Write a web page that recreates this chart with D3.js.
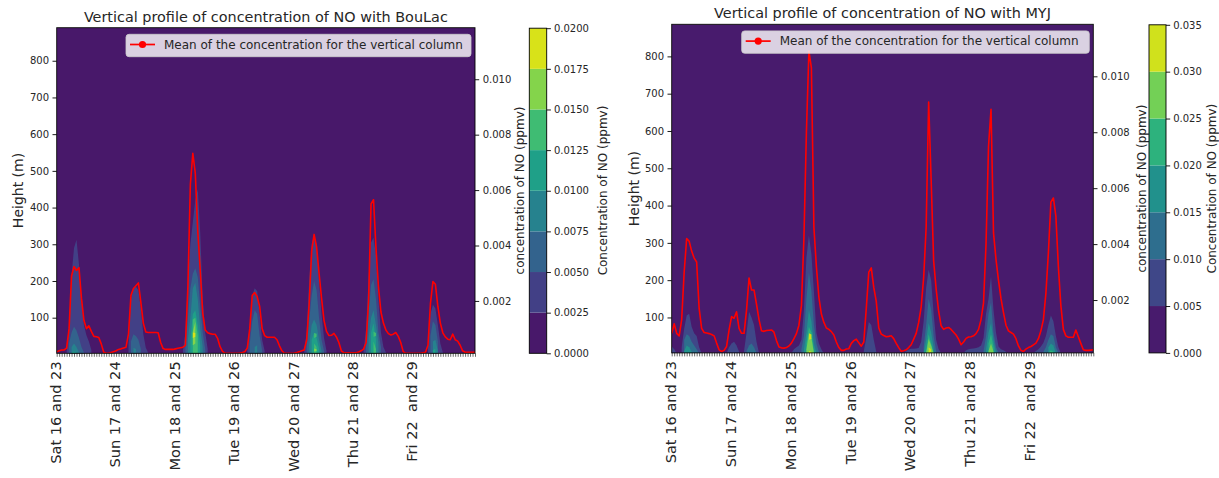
<!DOCTYPE html>
<html>
<head>
<meta charset="utf-8">
<script src="https://cdn.jsdelivr.net/npm/d3@7"></script>
<style>
  body { margin: 0; background: #ffffff; }
  svg text { font-family: "DejaVu Sans", sans-serif; fill: #262626; }
</style>
</head>
<body>
<svg id="chart" width="1219" height="478"></svg>
<script>
// ---------------------------------------------------------------
// Data
// ---------------------------------------------------------------

// Day labels on the time axis (one label every 24 h)
const dayTickHours = [0, 24, 48, 72, 96, 120, 144];
const dayLabels = ["Sat 16 and 23", "Sun 17 and 24", "Mon 18 and 25", "Tue 19 and 26",
                   "Wed 20 and 27", "Thu 21 and 28", "Fri 22  and 29"];
const heightTicks = [100, 200, 300, 400, 500, 600, 700, 800];
const meanTicks = [0.002, 0.004, 0.006, 0.008, 0.010];

// Contour levels (ppmv)
const bouLacLevels = [0, 0.0025, 0.005, 0.0075, 0.01, 0.0125, 0.015, 0.0175, 0.02];
const myjLevels = [0, 0.005, 0.01, 0.015, 0.02, 0.025, 0.03, 0.035];

// Hourly column-mean concentration (ppbv = 1e-3 ppmv), hours 0..169
const bouLacMeanPpbv = [
  0.17, 0.2, 0.23, 0.23, 0.3, 1.0, 2.9, 3.24, 3.1, 3.2, 2.1, 1.3, 1.0, 1.1, 0.9, 0.72, 0.71, 0.68, 0.45, 0.15, 0.11, 0.11, 0.14, 0.17,
  0.2, 0.25, 0.27, 0.3, 0.33, 0.8, 2.2, 2.45, 2.55, 2.65, 1.95, 1.2, 0.88, 0.86, 0.86, 0.86, 0.86, 0.85, 0.5, 0.28, 0.25, 0.25, 0.25, 0.25,
  0.27, 0.29, 0.31, 0.33, 0.4, 2.5, 6.2, 7.33, 6.6, 4.5, 3.1, 1.56, 0.95, 0.85, 0.82, 0.8, 0.8, 0.65, 0.35, 0.18, 0.11, 0.11, 0.11, 0.11,
  0.11, 0.11, 0.12, 0.14, 0.17, 0.3, 1.0, 2.2, 2.3, 2.15, 1.8, 1.0, 0.75, 0.69, 0.69, 0.69, 0.69, 0.6, 0.38, 0.2, 0.11, 0.11, 0.11, 0.11,
  0.12, 0.14, 0.17, 0.2, 0.23, 0.6, 1.9, 3.8, 4.4, 3.95, 3.0, 2.1, 1.3, 0.9, 0.75, 0.76, 0.83, 0.7, 0.5, 0.2, 0.13, 0.13, 0.13, 0.13,
  0.13, 0.13, 0.16, 0.2, 0.26, 0.5, 2.0, 5.5, 5.65, 3.9, 2.5, 1.6, 1.2, 0.95, 0.82, 0.77, 0.8, 0.86, 0.72, 0.5, 0.17, 0.11, 0.11, 0.11,
  0.11, 0.11, 0.11, 0.11, 0.13, 0.15, 0.4, 1.9, 2.7, 2.6, 1.8, 1.2, 0.85, 0.7, 0.62, 0.6, 0.8, 0.6, 0.55, 0.4, 0.2, 0.15, 0.15, 0.15, 0.15, 0.15
];
const myjMeanPpbv = [
  0.81, 1.15, 0.81, 0.72, 1.3, 3.0, 4.2, 4.1, 3.75, 3.5, 3.36, 1.7, 0.99, 0.84, 0.82, 0.8, 0.77, 0.72, 0.46, 0.22, 0.16, 0.2, 0.34, 0.93,
  1.41, 1.35, 1.58, 0.99, 0.81, 0.81, 1.64, 2.79, 2.36, 2.36, 1.85, 1.3, 0.9, 0.88, 0.91, 0.92, 0.93, 0.85, 0.55, 0.32, 0.29, 0.28, 0.3, 0.36,
  0.46, 0.62, 0.8, 1.1, 1.8, 4.2, 8.0, 10.9, 10.3, 4.6, 3.2, 2.1, 1.5, 1.2, 1.0, 0.95, 0.87, 0.75, 0.5, 0.3, 0.2, 0.2, 0.25, 0.26,
  0.45, 0.55, 0.6, 0.47, 0.35, 0.5, 1.7, 3.0, 3.15, 2.45, 1.95, 1.0, 0.78, 0.73, 0.69, 0.7, 0.72, 0.62, 0.45, 0.3, 0.17, 0.19, 0.22, 0.3,
  0.4, 0.6, 0.81, 1.2, 1.75, 2.8, 4.6, 9.08, 6.3, 3.4, 2.4, 1.6, 1.08, 0.95, 1.0, 1.02, 0.95, 0.85, 0.75, 0.6, 0.4, 0.5, 0.63, 0.68,
  0.69, 0.72, 0.8, 0.95, 1.3, 1.9, 4.0, 7.5, 8.82, 4.4, 3.45, 2.7, 2.05, 1.55, 1.1, 0.9, 0.84, 0.78, 0.62, 0.36, 0.2, 0.16, 0.25, 0.3,
  0.34, 0.4, 0.46, 0.62, 0.9, 1.3, 2.24, 3.7, 5.5, 5.65, 5.0, 3.19, 1.8, 0.95, 0.72, 0.67, 0.67, 0.67, 0.93, 0.69, 0.45, 0.22, 0.2, 0.2, 0.21, 0.22
];

// Filled-contour regions: for each level, cells [hour, bottom height (m), top height (m)]
// where the concentration exceeds that level. BouLac run.
const bouLacAbove1 = [
  [4,0,5],[5,0,80],[6,0,215],[7,0,290],[8,0,312],[9,0,245],[10,0,150],[11,0,80],[12,0,52],[13,0,35],[14,0,12],
  [29,0,25],[30,0,150],[31,0,180],[32,0,185],[33,0,175],[34,0,125],[35,0,55],[36,0,18],[37,0,4],
  [51,0,10],[52,0,60],[53,0,200],[54,0,300],[55,0,360],[56,0,420],[57,0,450],[58,0,330],[59,0,150],[60,0,60],[61,0,15],
  [77,0,10],[78,0,80],[79,0,160],[80,0,180],[81,0,172],[82,0,110],[83,0,40],[84,0,10],
  [100,0,10],[101,0,60],[102,0,200],[103,0,300],[104,0,325],[105,0,300],[106,0,200],[107,0,110],[108,0,45],[109,0,10],
  [124,0,10],[125,0,70],[126,0,210],[127,0,305],[128,0,318],[129,0,270],[130,0,150],[131,0,60],[132,0,20],[133,0,5],
  [150,0,20],[151,0,110],[152,0,135],[153,0,125],[154,0,80],[155,0,30],[156,0,5]
];
const bouLacAbove2 = [
  [5,0,30],[6,0,60],[7,0,75],[8,0,65],[9,0,45],[10,0,20],[11,0,5],
  [30,0,35],[31,0,55],[32,0,50],[33,0,40],[34,0,15],
  [52,0,20],[53,0,100],[54,0,180],[55,0,220],[56,0,235],[57,0,210],[58,0,130],[59,0,60],[60,0,15],
  [78,0,30],[79,0,90],[80,0,120],[81,0,110],[82,0,50],[83,0,10],
  [101,0,20],[102,0,90],[103,0,160],[104,0,200],[105,0,175],[106,0,100],[107,0,40],[108,0,10],
  [125,0,20],[126,0,110],[127,0,190],[128,0,205],[129,0,150],[130,0,60],[131,0,20],
  [151,0,50],[152,0,90],[153,0,80],[154,0,35]
];
const bouLacAbove3 = [
  [6,0,20],[7,0,30],[8,0,20],[9,0,5],
  [31,0,18],[32,0,15],
  [53,0,40],[54,0,100],[55,0,180],[56,0,195],[57,0,150],[58,0,70],[59,0,20],
  [80,0,20],[81,0,25],
  [102,0,25],[103,0,80],[104,0,95],[105,0,80],[106,0,40],[107,0,10],
  [126,0,45],[127,0,100],[128,0,120],[129,0,80],[130,0,30],
  [152,0,35],[153,0,40],[154,0,10]
];
const bouLacAbove4 = [
  [6,0,4],[7,0,8],[8,0,4],
  [54,0,40],[55,0,110],[56,0,120],[57,0,80],[58,0,25],
  [103,0,40],[104,0,60],[105,0,45],[106,0,15],
  [127,0,60],[128,0,85],[129,0,40],
  [152,0,12],[153,0,15]
];
const bouLacAbove5 = [
  [55,0,95],[56,0,100],[57,0,50],
  [104,0,30],[105,0,20],
  [104,45,58],[105,48,56],
  [128,0,35],[129,0,15],
  [128,48,62],[129,50,58]
];
const bouLacAbove6 = [
  [55,25,62],[56,30,88],
  [104,8,16],[105,9,14]
];
const bouLacAbove7 = [
  [55,45,60],[56,48,58]
];

// MYJ run
const myjAbove1 = [
  [0,0,22],[1,0,15],[2,0,3],
  [4,0,20],[5,0,70],[6,0,105],[7,0,110],[8,0,75],[9,0,58],[10,0,50],[11,0,20],[12,0,3],
  [22,0,5],[23,0,20],[24,0,30],[25,0,35],[26,0,25],[27,0,8],
  [29,0,10],[30,0,60],[31,0,115],[32,0,100],[33,0,80],[34,0,35],[35,0,5],
  [48,0,5],[49,0,15],[50,0,20],[51,0,25],[52,0,40],[53,0,120],[54,0,260],[55,0,320],[56,0,270],[57,0,170],[58,0,60],[59,0,30],[60,0,15],[61,0,3],
  [77,0,10],[78,0,45],[79,0,88],[80,0,80],[81,0,40],[82,0,8],
  [93,0,5],[94,0,10],[95,0,14],[96,0,16],[97,0,16],[98,0,17],[99,0,18],[100,0,35],[101,0,90],[102,0,180],[103,0,228],[104,0,200],[105,0,110],[106,0,40],[107,0,15],[108,0,5],
  [117,0,5],[118,0,12],[119,0,15],[120,0,16],[121,0,17],[122,0,18],[123,0,20],[124,0,25],[125,0,45],[126,0,110],[127,0,150],[128,0,210],[129,0,120],[130,0,60],[131,0,22],[132,0,15],[133,0,12],[134,0,8],[135,0,3],
  [145,0,5],[146,0,10],[147,0,15],[148,0,22],[149,0,32],[150,0,50],[151,0,80],[152,0,105],[153,0,90],[154,0,50],[155,0,20],[156,0,4]
];
const myjAbove2 = [
  [5,0,40],[6,0,55],[7,0,50],[8,0,35],[9,0,25],[10,0,15],[11,0,3],
  [30,0,10],[31,0,25],[32,0,30],[33,0,20],[34,0,5],
  [52,0,15],[53,0,50],[54,0,150],[55,0,220],[56,0,170],[57,0,80],[58,0,30],[59,0,8],
  [101,0,20],[102,0,80],[103,0,150],[104,0,120],[105,0,50],[106,0,10],
  [125,0,10],[126,0,50],[127,0,110],[128,0,140],[129,0,60],[130,0,20],[131,0,5],
  [149,0,8],[150,0,20],[151,0,40],[152,0,55],[153,0,50],[154,0,20],[155,0,5]
];
const myjAbove3 = [
  [5,0,10],[6,0,25],[7,0,20],[8,0,8],
  [53,0,15],[54,0,60],[55,0,120],[56,0,90],[57,0,30],[58,0,5],
  [101,0,5],[102,0,40],[103,0,85],[104,0,60],[105,0,20],
  [126,0,15],[127,0,60],[128,0,85],[129,0,40],[130,0,5],
  [151,0,20],[152,0,30],[153,0,25],[154,0,5]
];
const myjAbove4 = [
  [54,0,30],[55,0,75],[56,0,60],[57,0,10],
  [102,0,10],[103,0,55],[104,0,30],[105,0,5],
  [127,0,30],[128,0,55],[129,0,20],
  [151,0,5],[152,0,12],[153,0,8]
];
const myjAbove5 = [
  [54,0,15],[55,0,55],[56,0,45],[57,0,5],
  [102,0,5],[103,0,42],[104,0,25],[105,0,3],
  [127,0,10],[128,0,30],[129,0,8]
];
const myjAbove6 = [
  [55,0,10],[56,0,8],
  [55,40,58],[56,42,54],
  [103,5,20],[104,8,15]
];

// ---------------------------------------------------------------
// Drawing
// ---------------------------------------------------------------
const svg = d3.select("#chart");
const hourDomain = [0, 169];
const meanDomain = [0.00011, 0.01186];

// split cells into runs of consecutive hours, one filled polygon per run
function consecutiveRuns(cells) {
  const runs = [];
  let cur = [];
  cells.forEach(c => {
    if (cur.length && c[0] !== cur[cur.length - 1][0] + 1) { runs.push(cur); cur = []; }
    cur.push(c);
  });
  if (cur.length) runs.push(cur);
  return runs;
}

function styleAxis(sel) {
  sel.select(".domain").remove();
  sel.selectAll(".tick line").attr("stroke", "#000").attr("stroke-width", 0.9);
  sel.selectAll(".tick text").attr("font-size", 10).attr("fill", "#262626")
     .attr("font-family", "DejaVu Sans, sans-serif");
}

function drawPanel(p) {
  const g = svg.append("g");
  const x = d3.scaleLinear().domain(hourDomain).range([p.left, p.right]);
  const y = d3.scaleLinear().domain(p.heightDomain).range([p.bottom, p.top]);
  const yMean = d3.scaleLinear().domain(meanDomain).range([p.bottom, p.top]);
  const nBands = p.levels.length - 1;
  const bandColor = i => d3.interpolateViridis((i + 0.5) / nBands);

  // clipped plot area
  const clipId = "clip-" + p.id;
  svg.append("clipPath").attr("id", clipId)
    .append("rect").attr("x", p.left).attr("y", p.top)
    .attr("width", p.right - p.left).attr("height", p.bottom - p.top);
  const plot = g.append("g").attr("clip-path", `url(#${clipId})`);

  // lowest band fills the whole field
  plot.append("rect").attr("x", p.left).attr("y", p.top)
    .attr("width", p.right - p.left).attr("height", p.bottom - p.top)
    .attr("fill", bandColor(0));

  const area = d3.area()
    .x(d => x(d[0]))
    .y0(d => y(d[1]))
    .y1(d => y(d[2]));

  p.bands.forEach((cells, i) => {
    consecutiveRuns(cells).forEach(run => {
      plot.append("path").attr("d", area(run)).attr("fill", bandColor(i + 1));
    });
  });

  // column mean
  const line = d3.line()
    .x((d, i) => x(i))
    .y(d => yMean(d / 1000));
  plot.append("path").datum(p.mean).attr("d", line)
    .attr("fill", "none").attr("stroke", "#ff0000").attr("stroke-width", 1.6)
    .attr("stroke-linejoin", "round");

  // frame
  g.append("rect").attr("x", p.left).attr("y", p.top)
    .attr("width", p.right - p.left).attr("height", p.bottom - p.top)
    .attr("fill", "none").attr("stroke", "#000").attr("stroke-width", 0.9);

  // left axis (height)
  const yAxis = g.append("g").attr("transform", `translate(${p.left},0)`)
    .call(d3.axisLeft(y).tickValues(heightTicks).tickSize(4.2).tickPadding(3.5).tickSizeOuter(0));
  styleAxis(yAxis);

  // right axis (column mean)
  const mAxis = g.append("g").attr("transform", `translate(${p.right},0)`)
    .call(d3.axisRight(yMean).tickValues(meanTicks).tickFormat(d3.format(".3f"))
      .tickSize(4.2).tickPadding(3.5).tickSizeOuter(0));
  styleAxis(mAxis);

  // hourly ticks on the time axis
  const xAxis = g.append("g").attr("transform", `translate(0,${p.bottom})`)
    .call(d3.axisBottom(x).tickValues(d3.range(0, 170)).tickFormat("").tickSize(3.5).tickSizeOuter(0));
  xAxis.select(".domain").remove();
  xAxis.selectAll(".tick line").attr("stroke", "#000").attr("stroke-width", 0.6);

  // day labels, rotated
  g.selectAll("text.day").data(dayTickHours).join("text")
    .attr("class", "day")
    .attr("transform", d => `translate(${x(d) - 1},${p.bottom + 8}) rotate(-90)`)
    .attr("text-anchor", "end")
    .attr("dy", "0.36em")
    .attr("font-size", 14.6)
    .style("white-space", "pre")
    .text((d, i) => dayLabels[i]);

  const midY = (p.top + p.bottom) / 2;

  // axis titles
  g.append("text")
    .attr("transform", `translate(${p.heightLabelX},${midY}) rotate(-90)`)
    .attr("text-anchor", "middle").attr("dy", "0.36em").attr("font-size", 14)
    .text("Height (m)");
  g.append("text")
    .attr("transform", `translate(${p.right + p.meanLabelOffset},${midY}) rotate(-90)`)
    .attr("text-anchor", "middle").attr("dy", "0.36em").attr("font-size", 12)
    .text("concentration of NO (ppmv)");

  // title
  g.append("text")
    .attr("x", (p.left + p.right) / 2).attr("y", p.top - 6)
    .attr("text-anchor", "middle").attr("font-size", 14.4)
    .text(p.title);

  // legend
  const lg = g.append("g");
  const lx0 = p.legendLeft, lx1 = p.right - 4, ly0 = p.top + 6.6, ly1 = p.top + 29;
  lg.append("rect").attr("x", lx0).attr("y", ly0).attr("width", lx1 - lx0).attr("height", ly1 - ly0)
    .attr("rx", 3).attr("fill", "#ffffff").attr("fill-opacity", 0.8)
    .attr("stroke", "#cccccc").attr("stroke-opacity", 0.8).attr("stroke-width", 1);
  const lyc = (ly0 + ly1) / 2 - 1;
  lg.append("line").attr("x1", lx0 + 4).attr("x2", lx0 + 29).attr("y1", lyc).attr("y2", lyc)
    .attr("stroke", "#ff0000").attr("stroke-width", 1.7);
  lg.append("circle").attr("cx", lx0 + 16.5).attr("cy", lyc).attr("r", 3.6).attr("fill", "#ff0000");
  lg.append("text").attr("x", lx0 + 38).attr("y", lyc).attr("dy", "0.36em")
    .attr("font-size", 12).text("Mean of the concentration for the vertical column");

  // colorbar
  const cb = g.append("g");
  const cx0 = p.right + p.cbarGap, cw = p.cbarWidth;
  const cScale = d3.scaleLinear().domain([p.levels[0], p.levels[nBands]]).range([p.bottom, p.cbarTop]);
  d3.range(nBands).forEach(i => {
    cb.append("rect").attr("x", cx0).attr("width", cw)
      .attr("y", cScale(p.levels[i + 1])).attr("height", cScale(p.levels[i]) - cScale(p.levels[i + 1]))
      .attr("fill", bandColor(i));
  });
  cb.append("rect").attr("x", cx0).attr("y", p.cbarTop).attr("width", cw)
    .attr("height", p.bottom - p.cbarTop).attr("fill", "none")
    .attr("stroke", "#000").attr("stroke-width", 0.9);
  const cAxis = cb.append("g").attr("transform", `translate(${cx0 + cw},0)`)
    .call(d3.axisRight(cScale).tickValues(p.levels).tickFormat(d3.format(p.cbarFormat))
      .tickSize(4.2).tickPadding(3).tickSizeOuter(0));
  styleAxis(cAxis);
  cb.append("text")
    .attr("transform", `translate(${cx0 + cw + p.cbarLabelOffset},${midY}) rotate(-90)`)
    .attr("text-anchor", "middle").attr("dy", "0.36em").attr("font-size", 12)
    .text("Concentration of NO (ppmv)");
}

drawPanel({
  id: "boulac",
  title: "Vertical profile of concentration of NO with BouLac",
  left: 56.7, right: 475, top: 27.7, bottom: 353.3,
  heightDomain: [3, 890],
  heightLabelX: 17.6,
  meanLabelOffset: 45,
  legendLeft: 126,
  levels: bouLacLevels,
  bands: [bouLacAbove1, bouLacAbove2, bouLacAbove3, bouLacAbove4, bouLacAbove5, bouLacAbove6, bouLacAbove7],
  mean: bouLacMeanPpbv,
  cbarGap: 54.3, cbarWidth: 17.4, cbarTop: 28.2, cbarFormat: ".4f", cbarLabelOffset: 55.5
});

drawPanel({
  id: "myj",
  title: "Vertical profile of concentration of NO with MYJ",
  left: 671.7, right: 1093.3, top: 24.3, bottom: 352.9,
  heightDomain: [5, 886],
  heightLabelX: 633.5,
  meanLabelOffset: 48.7,
  legendLeft: 741.7,
  levels: myjLevels,
  bands: [myjAbove1, myjAbove2, myjAbove3, myjAbove4, myjAbove5, myjAbove6],
  mean: myjMeanPpbv,
  cbarGap: 55.7, cbarWidth: 17, cbarTop: 24.8, cbarFormat: ".3f", cbarLabelOffset: 46
});
</script>
</body>
</html>
